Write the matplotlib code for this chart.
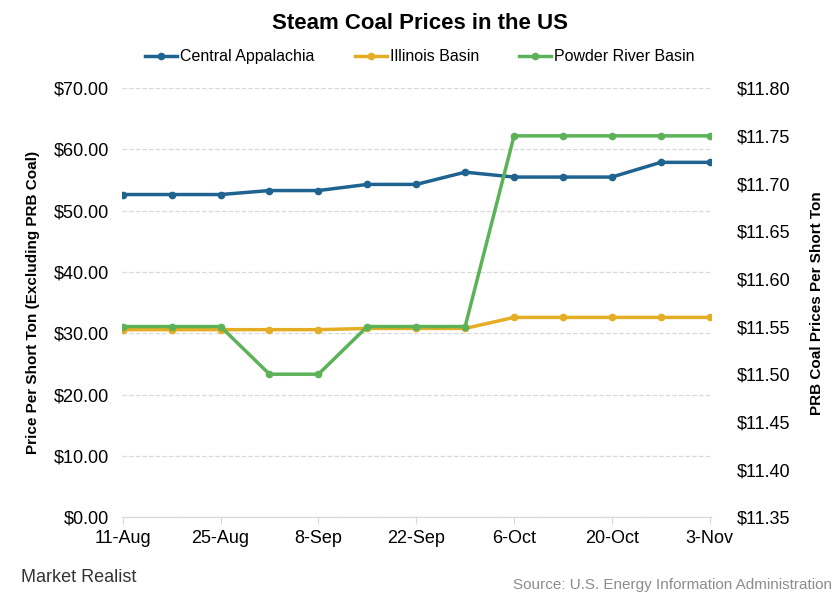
import matplotlib
matplotlib.use('Agg')
import matplotlib.pyplot as plt
from matplotlib.ticker import FuncFormatter

plt.rcParams['font.family'] = ['Liberation Sans', 'DejaVu Sans']

weeks = ['11-Aug', '18-Aug', '25-Aug', '1-Sep', '8-Sep', '15-Sep', '22-Sep',
         '29-Sep', '6-Oct', '13-Oct', '20-Oct', '27-Oct', '3-Nov']
central_app = [52.65, 52.65, 52.65, 53.3, 53.3, 54.3, 54.3, 56.3, 55.5, 55.5, 55.5, 57.9, 57.9]
illinois = [30.6, 30.6, 30.6, 30.6, 30.6, 30.8, 30.8, 30.8, 32.6, 32.6, 32.6, 32.6, 32.6]
prb = [11.55, 11.55, 11.55, 11.50, 11.50, 11.55, 11.55, 11.55, 11.75, 11.75, 11.75, 11.75, 11.75]

blue = '#1f6391'
gold = '#e5ad24'
green = '#5cb257'

fig = plt.figure(figsize=(8.4, 6), dpi=100)
ax = fig.add_axes([0.145, 0.138, 0.701, 0.715])
ax2 = ax.twinx()

x = list(range(len(weeks)))
l1, = ax.plot(x, central_app, color=blue, lw=2.5, marker='o', ms=4.5, label='Central Appalachia')
l2, = ax.plot(x, illinois, color=gold, lw=2.5, marker='o', ms=4.5, label='Illinois Basin')
l3, = ax2.plot(x, prb, color=green, lw=2.5, marker='o', ms=4.5, label='Powder River Basin')

ax.set_ylim(0, 70)
ax.set_yticks(range(0, 71, 10))
ax.yaxis.set_major_formatter(FuncFormatter(lambda v, p: '${:.2f}'.format(v)))
ax2.set_ylim(11.35, 11.80)
ax2.set_yticks([11.35 + 0.05 * i for i in range(10)])
ax2.yaxis.set_major_formatter(FuncFormatter(lambda v, p: '${:.2f}'.format(v)))

ax.set_xlim(-0.02, 12.02)
ax.set_xticks(x[::2])
ax.set_xticklabels(weeks[::2])

ax.grid(axis='y', color='#d9d9d9', ls='--', lw=0.9)
ax.set_axisbelow(True)
for a in (ax, ax2):
    for s in ['top', 'right', 'left']:
        a.spines[s].set_visible(False)
    a.spines['bottom'].set_color('#d9d9d9')
ax.tick_params(axis='y', length=0, labelsize=13, pad=9)
ax2.tick_params(axis='y', length=0, labelsize=13, pad=19)
ax.tick_params(axis='x', length=5, color='#d9d9d9', labelsize=13, pad=4)

ax.set_ylabel('Price Per Short Ton (Excluding PRB Coal)', fontsize=11, fontweight='bold', labelpad=10)
ax2.set_ylabel('PRB Coal Prices Per Short Ton', fontsize=11, fontweight='bold', labelpad=14)

fig.suptitle('Steam Coal Prices in the US', fontsize=16, fontweight='bold', y=0.978)
fig.legend(handles=[l1, l2, l3], loc='upper center', bbox_to_anchor=(0.5, 0.942), ncol=3,
           frameon=False, fontsize=11.5, handlelength=2, columnspacing=2.5, handletextpad=0.2)

fig.text(0.025, 0.03, 'Market Realist', fontsize=13, color='#333333')
fig.text(0.99, 0.018, 'Source: U.S. Energy Information Administration', fontsize=11,
         color='#8c8c8c', ha='right')

fig.savefig('out.png', dpi=100)
